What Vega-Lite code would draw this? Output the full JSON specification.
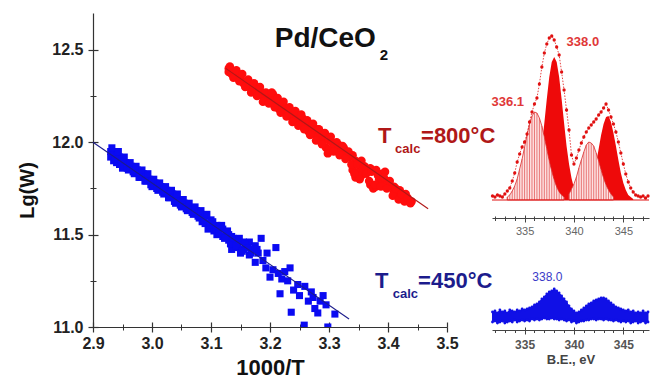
{
  "$schema": "https://vega.github.io/schema/vega-lite/v6.json",
  "background": "white",
  "padding": {"left": 17, "top": 13, "right": 0, "bottom": 0},
  "config": {"view": {"stroke": null}, "axis": {"grid": false}},
  "datasets": {
    "blue": [
      {"x":2.930,"y":11.95},{"x":2.930,"y":11.92},{"x":2.935,"y":11.94},{"x":2.935,"y":11.90},{"x":2.940,"y":11.93},{"x":2.940,"y":11.89},{"x":2.945,"y":11.88},{"x":2.945,"y":11.92},{"x":2.950,"y":11.91},{"x":2.950,"y":11.86},
      {"x":2.955,"y":11.89},{"x":2.960,"y":11.88},{"x":2.960,"y":11.85},{"x":2.965,"y":11.87},{"x":2.970,"y":11.83},{"x":2.970,"y":11.86},{"x":2.975,"y":11.85},{"x":2.980,"y":11.84},{"x":2.980,"y":11.81},{"x":2.985,"y":11.83},
      {"x":2.990,"y":11.79},{"x":2.990,"y":11.82},{"x":2.995,"y":11.80},{"x":3.000,"y":11.79},{"x":3.000,"y":11.76},{"x":3.005,"y":11.78},{"x":3.010,"y":11.74},{"x":3.010,"y":11.77},{"x":3.015,"y":11.76},{"x":3.020,"y":11.72},
      {"x":3.020,"y":11.75},{"x":3.025,"y":11.74},{"x":3.030,"y":11.70},{"x":3.030,"y":11.73},{"x":3.035,"y":11.72},{"x":3.040,"y":11.67},{"x":3.040,"y":11.70},{"x":3.045,"y":11.69},{"x":3.050,"y":11.65},{"x":3.050,"y":11.68},
      {"x":3.055,"y":11.67},{"x":3.060,"y":11.63},{"x":3.060,"y":11.66},{"x":3.065,"y":11.64},{"x":3.070,"y":11.61},{"x":3.070,"y":11.64},{"x":3.075,"y":11.63},{"x":3.080,"y":11.59},{"x":3.080,"y":11.62},{"x":3.085,"y":11.57},
      {"x":3.090,"y":11.60},{"x":3.090,"y":11.56},{"x":3.095,"y":11.53},{"x":3.100,"y":11.58},{"x":3.100,"y":11.54},{"x":3.105,"y":11.52},{"x":3.110,"y":11.55},{"x":3.110,"y":11.50},{"x":3.115,"y":11.54},{"x":3.120,"y":11.49},
      {"x":3.120,"y":11.53},{"x":3.125,"y":11.51},{"x":3.130,"y":11.47},{"x":3.130,"y":11.50},{"x":3.135,"y":11.42},{"x":3.135,"y":11.49},{"x":3.140,"y":11.45},{"x":3.145,"y":11.47},{"x":3.145,"y":11.43},{"x":3.150,"y":11.40},
      {"x":3.155,"y":11.46},{"x":3.155,"y":11.42},{"x":3.160,"y":11.44},{"x":3.165,"y":11.39},{"x":3.165,"y":11.46},{"x":3.170,"y":11.42},{"x":3.175,"y":11.35},{"x":3.175,"y":11.44},{"x":3.180,"y":11.40},{"x":3.185,"y":11.48},
      {"x":3.193,"y":11.32},{"x":3.195,"y":11.40},{"x":3.200,"y":11.27},{"x":3.205,"y":11.31},{"x":3.210,"y":11.43},{"x":3.214,"y":11.29},{"x":3.217,"y":11.18},{"x":3.220,"y":11.26},{"x":3.225,"y":11.30},{"x":3.230,"y":11.25},
      {"x":3.234,"y":11.32},{"x":3.236,"y":11.08},{"x":3.240,"y":11.20},{"x":3.247,"y":11.23},{"x":3.250,"y":11.17},{"x":3.258,"y":11.01},{"x":3.259,"y":11.22},{"x":3.265,"y":11.14},{"x":3.270,"y":11.19},{"x":3.273,"y":11.16},
      {"x":3.276,"y":11.10},{"x":3.281,"y":11.076},{"x":3.285,"y":11.14},{"x":3.290,"y":11.17},{"x":3.295,"y":11.12},{"x":3.298,"y":11.0},{"x":3.310,"y":11.07},
      {"x":2.932,"y":11.97},{"x":2.938,"y":11.91},{"x":2.943,"y":11.95},{"x":2.948,"y":11.88},{"x":2.953,"y":11.92},{"x":2.958,"y":11.86},{"x":2.963,"y":11.89},{"x":2.968,"y":11.84},{"x":2.973,"y":11.87},{"x":2.978,"y":11.81},
      {"x":2.983,"y":11.85},{"x":2.988,"y":11.79},{"x":2.993,"y":11.83},{"x":2.998,"y":11.77},{"x":3.003,"y":11.80},{"x":3.008,"y":11.75},{"x":3.013,"y":11.78},{"x":3.018,"y":11.73},{"x":3.023,"y":11.76},{"x":3.028,"y":11.70},
      {"x":3.033,"y":11.74},{"x":3.038,"y":11.68},{"x":3.043,"y":11.72},{"x":3.048,"y":11.66},{"x":3.053,"y":11.69},{"x":3.058,"y":11.64},{"x":3.063,"y":11.67},{"x":3.068,"y":11.62},{"x":3.073,"y":11.65},{"x":3.078,"y":11.60},
      {"x":3.083,"y":11.63},{"x":3.088,"y":11.58},{"x":3.093,"y":11.61},{"x":3.098,"y":11.55},{"x":3.103,"y":11.57},{"x":3.108,"y":11.53},{"x":3.113,"y":11.51},{"x":3.118,"y":11.55},{"x":3.123,"y":11.48},{"x":3.128,"y":11.52},
      {"x":3.133,"y":11.45},{"x":3.138,"y":11.48},{"x":3.143,"y":11.44},{"x":3.148,"y":11.48},{"x":3.153,"y":11.41},{"x":3.158,"y":11.45},{"x":3.163,"y":11.43},{"x":3.168,"y":11.40},{"x":3.178,"y":11.42},{"x":3.188,"y":11.36}
    ],
    "red": [
      {"x":3.130,"y":12.38},{"x":3.130,"y":12.40},{"x":3.135,"y":12.37},{"x":3.140,"y":12.36},{"x":3.140,"y":12.38},{"x":3.145,"y":12.35},{"x":3.150,"y":12.34},{"x":3.150,"y":12.36},{"x":3.155,"y":12.32},{"x":3.160,"y":12.33},
      {"x":3.160,"y":12.31},{"x":3.165,"y":12.30},{"x":3.170,"y":12.31},{"x":3.170,"y":12.28},{"x":3.175,"y":12.29},{"x":3.180,"y":12.26},{"x":3.180,"y":12.28},{"x":3.185,"y":12.27},{"x":3.190,"y":12.24},{"x":3.195,"y":12.26},
      {"x":3.195,"y":12.24},{"x":3.200,"y":12.25},{"x":3.205,"y":12.22},{"x":3.205,"y":12.26},{"x":3.210,"y":12.24},{"x":3.215,"y":12.21},{"x":3.215,"y":12.18},{"x":3.220,"y":12.20},{"x":3.225,"y":12.16},{"x":3.225,"y":12.19},
      {"x":3.230,"y":12.17},{"x":3.235,"y":12.14},{"x":3.235,"y":12.17},{"x":3.240,"y":12.15},{"x":3.245,"y":12.12},{"x":3.245,"y":12.14},{"x":3.250,"y":12.11},{"x":3.255,"y":12.13},{"x":3.255,"y":12.10},{"x":3.260,"y":12.09},
      {"x":3.265,"y":12.06},{"x":3.265,"y":12.10},{"x":3.270,"y":12.08},{"x":3.275,"y":12.05},{"x":3.280,"y":12.07},{"x":3.280,"y":12.03},{"x":3.285,"y":12.05},{"x":3.290,"y":12.01},{"x":3.290,"y":12.04},{"x":3.295,"y":11.97},
      {"x":3.300,"y":12.01},{"x":3.300,"y":11.96},{"x":3.305,"y":12.00},{"x":3.310,"y":11.98},{"x":3.315,"y":11.96},{"x":3.315,"y":11.99},{"x":3.320,"y":11.95},{"x":3.325,"y":11.97},{"x":3.325,"y":11.94},{"x":3.330,"y":11.94},
      {"x":3.335,"y":11.92},{"x":3.340,"y":11.93},{"x":3.340,"y":11.85},{"x":3.345,"y":11.81},{"x":3.345,"y":11.90},{"x":3.350,"y":11.84},{"x":3.355,"y":11.90},{"x":3.355,"y":11.82},{"x":3.360,"y":11.87},{"x":3.365,"y":11.85},
      {"x":3.370,"y":11.86},{"x":3.370,"y":11.77},{"x":3.375,"y":11.75},{"x":3.380,"y":11.76},{"x":3.380,"y":11.85},{"x":3.385,"y":11.80},{"x":3.390,"y":11.83},{"x":3.390,"y":11.79},{"x":3.395,"y":11.84},{"x":3.400,"y":11.78},
      {"x":3.405,"y":11.76},{"x":3.410,"y":11.73},{"x":3.410,"y":11.76},{"x":3.415,"y":11.72},{"x":3.420,"y":11.71},{"x":3.420,"y":11.74},{"x":3.425,"y":11.70},{"x":3.430,"y":11.70},{"x":3.430,"y":11.72},{"x":3.435,"y":11.68},{"x":3.440,"y":11.68},
      {"x":3.132,"y":12.41},{"x":3.138,"y":12.35},{"x":3.143,"y":12.39},{"x":3.148,"y":12.33},{"x":3.153,"y":12.37},{"x":3.158,"y":12.30},{"x":3.163,"y":12.34},{"x":3.168,"y":12.27},{"x":3.173,"y":12.32},{"x":3.178,"y":12.25},
      {"x":3.183,"y":12.30},{"x":3.188,"y":12.22},{"x":3.193,"y":12.27},{"x":3.198,"y":12.21},{"x":3.203,"y":12.27},{"x":3.208,"y":12.19},{"x":3.213,"y":12.24},{"x":3.218,"y":12.16},{"x":3.223,"y":12.22},{"x":3.228,"y":12.14},
      {"x":3.233,"y":12.19},{"x":3.238,"y":12.11},{"x":3.243,"y":12.17},{"x":3.248,"y":12.09},{"x":3.253,"y":12.15},{"x":3.258,"y":12.07},{"x":3.263,"y":12.12},{"x":3.268,"y":12.04},{"x":3.273,"y":12.10},{"x":3.278,"y":12.01},
      {"x":3.283,"y":12.07},{"x":3.288,"y":11.99},{"x":3.293,"y":12.05},{"x":3.298,"y":11.94},{"x":3.303,"y":12.03},{"x":3.308,"y":11.95},{"x":3.313,"y":12.00},{"x":3.318,"y":11.93},{"x":3.323,"y":11.98},{"x":3.328,"y":11.91},
      {"x":3.333,"y":11.95},{"x":3.338,"y":11.88},{"x":3.343,"y":11.83},{"x":3.348,"y":11.88},{"x":3.352,"y":11.80},{"x":3.358,"y":11.86},{"x":3.363,"y":11.83},{"x":3.368,"y":11.79},{"x":3.372,"y":11.84},{"x":3.378,"y":11.77},
      {"x":3.383,"y":11.82},{"x":3.388,"y":11.76},{"x":3.393,"y":11.81},{"x":3.398,"y":11.75},{"x":3.403,"y":11.79},{"x":3.408,"y":11.71},{"x":3.413,"y":11.75},{"x":3.418,"y":11.69},{"x":3.423,"y":11.72},{"x":3.428,"y":11.68},{"x":3.433,"y":11.70},{"x":3.438,"y":11.67}
    ],
    "fits": [
      {"s":"450","x":2.9,"y":12.0},{"s":"450","x":3.334,"y":11.043},
      {"s":"800","x":3.125,"y":12.40},{"s":"800","x":3.468,"y":11.64}
    ],
    "bigtext": [
      {"label":"T","x":3.383,"y":11.995,"g":"800"},
      {"label":"=800°C","x":3.456,"y":11.995,"g":"800"},
      {"label":"T","x":3.378,"y":11.211,"g":"450"},
      {"label":"=450°C","x":3.451,"y":11.211,"g":"450"}
    ],
    "subtext": [
      {"label":"calc","x":3.412,"y":11.94,"g":"800"},
      {"label":"calc","x":3.408,"y":11.157,"g":"450"}
    ],
    "solid": [
      {"c":"p2","e":335.5,"h":3},{"c":"p2","e":335.75,"h":6},{"c":"p2","e":336.0,"h":12},{"c":"p2","e":336.25,"h":22},{"c":"p2","e":336.5,"h":36},{"c":"p2","e":336.75,"h":54},{"c":"p2","e":337.0,"h":77},{"c":"p2","e":337.25,"h":101},{"c":"p2","e":337.5,"h":123},{"c":"p2","e":337.75,"h":138},{"c":"p2","e":338.0,"h":143},
      {"c":"p2","e":338.25,"h":138},{"c":"p2","e":338.5,"h":123},{"c":"p2","e":338.75,"h":101},{"c":"p2","e":339.0,"h":77},{"c":"p2","e":339.25,"h":54},{"c":"p2","e":339.5,"h":36},{"c":"p2","e":339.75,"h":22},{"c":"p2","e":340.0,"h":12},{"c":"p2","e":340.25,"h":6},{"c":"p2","e":340.5,"h":3},
      {"c":"p4","e":341.25,"h":5},{"c":"p4","e":341.5,"h":9},{"c":"p4","e":341.75,"h":16},{"c":"p4","e":342.0,"h":25},{"c":"p4","e":342.25,"h":37},{"c":"p4","e":342.5,"h":51},{"c":"p4","e":342.75,"h":65},{"c":"p4","e":343.0,"h":76},{"c":"p4","e":343.25,"h":83},{"c":"p4","e":343.5,"h":84},
      {"c":"p4","e":343.75,"h":78},{"c":"p4","e":344.0,"h":67},{"c":"p4","e":344.25,"h":54},{"c":"p4","e":344.5,"h":40},{"c":"p4","e":344.75,"h":27},{"c":"p4","e":345.0,"h":17},{"c":"p4","e":345.25,"h":10},{"c":"p4","e":345.5,"h":5},{"c":"p4","e":345.75,"h":3},{"c":"p4","e":346.0,"h":1}
    ],
    "hatched": [
      {"c":"p1","e":333.25,"h":3},{"c":"p1","e":333.5,"h":5},{"c":"p1","e":333.75,"h":9},{"c":"p1","e":334.0,"h":14},{"c":"p1","e":334.25,"h":21},{"c":"p1","e":334.5,"h":31},{"c":"p1","e":334.75,"h":41},{"c":"p1","e":335.0,"h":53},{"c":"p1","e":335.25,"h":65},{"c":"p1","e":335.5,"h":76},{"c":"p1","e":335.75,"h":84},{"c":"p1","e":336.0,"h":88},{"c":"p1","e":336.25,"h":87},{"c":"p1","e":336.5,"h":82},{"c":"p1","e":336.75,"h":74},{"c":"p1","e":337.0,"h":63},{"c":"p1","e":337.25,"h":51},{"c":"p1","e":337.5,"h":39},{"c":"p1","e":337.75,"h":29},{"c":"p1","e":338.0,"h":20},{"c":"p1","e":338.25,"h":13},{"c":"p1","e":338.5,"h":8},{"c":"p1","e":338.75,"h":5},{"c":"p1","e":339.0,"h":3},
      {"c":"p3","e":339.5,"h":6},{"c":"p3","e":339.75,"h":11},{"c":"p3","e":340.0,"h":16},{"c":"p3","e":340.25,"h":23},{"c":"p3","e":340.5,"h":32},{"c":"p3","e":340.75,"h":40},{"c":"p3","e":341.0,"h":48},{"c":"p3","e":341.25,"h":55},{"c":"p3","e":341.5,"h":58},{"c":"p3","e":341.75,"h":57},{"c":"p3","e":342.0,"h":54},{"c":"p3","e":342.25,"h":47},{"c":"p3","e":342.5,"h":39},{"c":"p3","e":342.75,"h":30},{"c":"p3","e":343.0,"h":22},{"c":"p3","e":343.25,"h":15},{"c":"p3","e":343.5,"h":10},{"c":"p3","e":343.75,"h":6},{"c":"p3","e":344.0,"h":3}
    ],
    "env": [
      {"e":331.75,"h":4},{"e":332.0,"h":3},{"e":332.25,"h":5},{"e":332.5,"h":4},{"e":332.75,"h":3},{"e":333.0,"h":6},{"e":333.25,"h":9},{"e":333.5,"h":12},{"e":333.75,"h":19},{"e":334.0,"h":27},
      {"e":334.25,"h":38},{"e":334.5,"h":46},{"e":334.75,"h":53},{"e":335.0,"h":58},{"e":335.25,"h":66},{"e":335.5,"h":78},{"e":335.75,"h":88},{"e":336.0,"h":96},{"e":336.25,"h":102},{"e":336.5,"h":116},
      {"e":336.75,"h":133},{"e":337.0,"h":147},{"e":337.25,"h":156},{"e":337.5,"h":162},{"e":337.75,"h":164},{"e":338.0,"h":160},{"e":338.25,"h":153},{"e":338.5,"h":145},{"e":338.75,"h":128},{"e":339.0,"h":110},
      {"e":339.25,"h":90},{"e":339.5,"h":70},{"e":339.75,"h":45},{"e":340.0,"h":36},{"e":340.25,"h":42},{"e":340.5,"h":50},{"e":340.75,"h":57},{"e":341.0,"h":63},{"e":341.25,"h":68},{"e":341.5,"h":72},
      {"e":341.75,"h":75},{"e":342.0,"h":78},{"e":342.25,"h":81},{"e":342.5,"h":85},{"e":342.75,"h":88},{"e":343.0,"h":92},{"e":343.25,"h":96},{"e":343.5,"h":90},{"e":343.75,"h":83},{"e":344.0,"h":76},
      {"e":344.25,"h":68},{"e":344.5,"h":58},{"e":344.75,"h":47},{"e":345.0,"h":36},{"e":345.25,"h":26},{"e":345.5,"h":18},{"e":345.75,"h":12},{"e":346.0,"h":8},{"e":346.25,"h":5},{"e":346.5,"h":4},
      {"e":346.75,"h":3},{"e":347.0,"h":4},{"e":347.25,"h":2},{"e":347.5,"h":4}
    ],
    "bluexps": [
      {"e":331.75,"hi":5,"lo":-5},{"e":332.0,"hi":6,"lo":-4},{"e":332.25,"hi":4,"lo":-6},{"e":332.5,"hi":7,"lo":-5},{"e":332.75,"hi":5,"lo":-4},{"e":333.0,"hi":6,"lo":-6},{"e":333.25,"hi":4,"lo":-5},{"e":333.5,"hi":7,"lo":-4},{"e":333.75,"hi":6,"lo":-5},{"e":334.0,"hi":5,"lo":-3},
      {"e":334.25,"hi":7,"lo":-5},{"e":334.5,"hi":6,"lo":-4},{"e":334.75,"hi":8,"lo":-3},{"e":335.0,"hi":7,"lo":-4},{"e":335.25,"hi":8,"lo":-3},{"e":335.5,"hi":9,"lo":-4},{"e":335.75,"hi":10,"lo":-2},{"e":336.0,"hi":12,"lo":-3},{"e":336.25,"hi":13,"lo":-2},{"e":336.5,"hi":15,"lo":-3},
      {"e":336.75,"hi":18,"lo":-2},{"e":337.0,"hi":20,"lo":-1},{"e":337.25,"hi":23,"lo":-2},{"e":337.5,"hi":25,"lo":-2},{"e":337.75,"hi":26,"lo":-1},{"e":338.0,"hi":28,"lo":-2},{"e":338.25,"hi":26,"lo":-2},{"e":338.5,"hi":24,"lo":-3},{"e":338.75,"hi":21,"lo":-2},{"e":339.0,"hi":18,"lo":-3},
      {"e":339.25,"hi":15,"lo":-4},{"e":339.5,"hi":11,"lo":-3},{"e":339.75,"hi":8,"lo":-5},{"e":340.0,"hi":6,"lo":-4},{"e":340.25,"hi":4,"lo":-6},{"e":340.5,"hi":5,"lo":-5},{"e":340.75,"hi":7,"lo":-4},{"e":341.0,"hi":9,"lo":-4},{"e":341.25,"hi":11,"lo":-3},{"e":341.5,"hi":13,"lo":-3},
      {"e":341.75,"hi":14,"lo":-2},{"e":342.0,"hi":16,"lo":-2},{"e":342.25,"hi":17,"lo":-3},{"e":342.5,"hi":18,"lo":-2},{"e":342.75,"hi":19,"lo":-2},{"e":343.0,"hi":19,"lo":-3},{"e":343.25,"hi":18,"lo":-2},{"e":343.5,"hi":16,"lo":-3},{"e":343.75,"hi":14,"lo":-3},{"e":344.0,"hi":12,"lo":-4},
      {"e":344.25,"hi":10,"lo":-3},{"e":344.5,"hi":9,"lo":-4},{"e":344.75,"hi":8,"lo":-5},{"e":345.0,"hi":7,"lo":-4},{"e":345.25,"hi":6,"lo":-5},{"e":345.5,"hi":7,"lo":-4},{"e":345.75,"hi":5,"lo":-6},{"e":346.0,"hi":6,"lo":-5},{"e":346.25,"hi":4,"lo":-4},{"e":346.5,"hi":5,"lo":-6},
      {"e":346.75,"hi":4,"lo":-5},{"e":347.0,"hi":6,"lo":-4},{"e":347.25,"hi":4,"lo":-6},{"e":347.5,"hi":5,"lo":-5}
    ]
  },
  "spacing": 45,
  "bounds": "flush",
  "hconcat": [
    {
      "width": 354,
      "height": 314,
      "resolve": {"axis": {"x": "independent", "y": "independent"}},
      "layer": [
        {
          "data": {"name": "blue"},
          "mark": {"type": "square", "size": 50, "color": "#0a0af2", "opacity": 1, "clip": true},
          "encoding": {
            "x": {"field": "x", "type": "quantitative", "scale": {"domain": [2.9, 3.5], "nice": false, "zero": false},
              "axis": {"orient": "bottom", "values": [2.9, 3.0, 3.1, 3.2, 3.3, 3.4, 3.5], "format": ".1f", "title": "1000/T", "labelFont": "Liberation Sans", "labelFontSize": 16, "labelFontWeight": "bold", "labelColor": "#222", "labelPadding": 3, "labelFlush": false, "labelOverlap": false, "tickSize": 5, "tickColor": "#333", "tickWidth": 1.2, "domainColor": "#333", "domainWidth": 1.2, "titleFont": "Liberation Sans", "titleFontSize": 22, "titleFontWeight": "bold", "titleColor": "#111", "titlePadding": 6, "grid": false}},
            "y": {"field": "y", "type": "quantitative", "scale": {"domain": [11, 12.7], "nice": false, "zero": false},
              "axis": {"orient": "left", "values": [11, 11.5, 12, 12.5], "format": ".1f", "title": "Lg(W)", "labelFont": "Liberation Sans", "labelFontSize": 16, "labelFontWeight": "bold", "labelColor": "#222", "labelPadding": 5, "labelFlush": false, "labelOverlap": false, "tickSize": 5, "tickColor": "#333", "tickWidth": 1.2, "domainColor": "#333", "domainWidth": 1.2, "titleFont": "Liberation Sans", "titleFontSize": 20, "titleFontWeight": "bold", "titleColor": "#111", "titlePadding": 14, "titleY": 177, "grid": false}}
          }
        },
        {
          "data": {"name": "red"},
          "mark": {"type": "circle", "size": 72, "color": "#ff0d0d", "opacity": 1},
          "encoding": {
            "x": {"field": "x", "type": "quantitative", "scale": {"domain": [2.9, 3.5], "nice": false, "zero": false},
              "axis": {"orient": "bottom", "values": [2.9, 3.0, 3.1, 3.2, 3.3, 3.4, 3.5], "labels": false, "domain": false, "tickSize": -5, "tickColor": "#333", "tickWidth": 1.2, "title": null, "grid": false}},
            "y": {"field": "y", "type": "quantitative", "scale": {"domain": [11, 12.7], "nice": false, "zero": false},
              "axis": {"orient": "left", "values": [11, 11.5, 12, 12.5], "labels": false, "domain": false, "tickSize": -5, "tickColor": "#333", "tickWidth": 1.2, "title": null, "grid": false}}
          }
        },
        {
          "data": {"name": "fits"},
          "mark": {"type": "line", "strokeWidth": 1.1},
          "encoding": {
            "x": {"field": "x", "type": "quantitative", "scale": {"domain": [2.9, 3.5], "nice": false, "zero": false},
              "axis": {"orient": "bottom", "values": [2.95, 3.05, 3.15, 3.25, 3.35, 3.45], "labels": false, "domain": false, "tickSize": 3, "tickColor": "#333", "title": null, "grid": false}},
            "y": {"field": "y", "type": "quantitative", "scale": {"domain": [11, 12.7], "nice": false, "zero": false},
              "axis": {"orient": "left", "values": [11.25, 11.75, 12.25], "labels": false, "domain": false, "tickSize": 3, "tickColor": "#333", "title": null, "grid": false}},
            "color": {"field": "s", "type": "nominal", "scale": {"domain": ["450", "800"], "range": ["#1c1c8c", "#b01818"]}, "legend": null},
            "detail": {"field": "s"}
          }
        },
        {
          "data": {"values": [{"label": "Pd/CeO", "x": 3.208, "y": 12.514}]},
          "mark": {"type": "text", "align": "left", "baseline": "alphabetic", "font": "Liberation Sans", "fontSize": 28, "fontWeight": "bold", "color": "#111"},
          "encoding": {
            "x": {"field": "x", "type": "quantitative", "scale": {"domain": [2.9, 3.5], "nice": false, "zero": false},
              "axis": {"orient": "bottom", "values": [2.95, 3.05, 3.15, 3.25, 3.35, 3.45], "labels": false, "domain": false, "tickSize": -3, "tickColor": "#333", "title": null, "grid": false}},
            "y": {"field": "y", "type": "quantitative", "scale": {"domain": [11, 12.7], "nice": false, "zero": false},
              "axis": {"orient": "left", "values": [11.25, 11.75, 12.25], "labels": false, "domain": false, "tickSize": -3, "tickColor": "#333", "title": null, "grid": false}},
            "text": {"field": "label"}
          }
        },
        {
          "data": {"values": [{"label": "2", "x": 3.386, "y": 12.443}]},
          "mark": {"type": "text", "align": "left", "baseline": "alphabetic", "font": "Liberation Sans", "fontSize": 15, "fontWeight": "bold", "color": "#111"},
          "encoding": {
            "x": {"field": "x", "type": "quantitative", "scale": {"domain": [2.9, 3.5], "nice": false, "zero": false}, "axis": null},
            "y": {"field": "y", "type": "quantitative", "scale": {"domain": [11, 12.7], "nice": false, "zero": false}, "axis": null},
            "text": {"field": "label"}
          }
        },
        {
          "data": {"name": "bigtext"},
          "mark": {"type": "text", "align": "left", "baseline": "alphabetic", "font": "Liberation Sans", "fontSize": 22, "fontWeight": "bold"},
          "encoding": {
            "x": {"field": "x", "type": "quantitative", "scale": {"domain": [2.9, 3.5], "nice": false, "zero": false}, "axis": null},
            "y": {"field": "y", "type": "quantitative", "scale": {"domain": [11, 12.7], "nice": false, "zero": false}, "axis": null},
            "color": {"field": "g", "type": "nominal", "scale": {"domain": ["450", "800"], "range": ["#1414c8", "#e0141e"]}, "legend": null},
            "text": {"field": "label"}
          }
        },
        {
          "data": {"name": "subtext"},
          "mark": {"type": "text", "align": "left", "baseline": "alphabetic", "font": "Liberation Sans", "fontSize": 13, "fontWeight": "bold"},
          "encoding": {
            "x": {"field": "x", "type": "quantitative", "scale": {"domain": [2.9, 3.5], "nice": false, "zero": false}, "axis": null},
            "y": {"field": "y", "type": "quantitative", "scale": {"domain": [11, 12.7], "nice": false, "zero": false}, "axis": null},
            "color": {"field": "g", "type": "nominal", "scale": {"domain": ["450", "800"], "range": ["#1414c8", "#e0141e"]}, "legend": null},
            "text": {"field": "label"}
          }
        }
      ]
    },
    {
      "spacing": 62,
      "bounds": "flush",
      "vconcat": [
        {
          "width": 157,
          "height": 205,
          "resolve": {"axis": {"x": "independent"}},
          "layer": [
            {
              "data": {"name": "solid"},
              "mark": {"type": "area", "color": "#ee0a0a", "opacity": 1},
              "encoding": {
                "x": {"field": "e", "type": "quantitative", "scale": {"domain": [331.7, 347.6], "nice": false, "zero": false},
                  "axis": {"orient": "bottom", "values": [335, 340, 345], "title": null, "labelFont": "Liberation Sans", "labelFontSize": 11, "labelColor": "#666", "labelPadding": 3, "labelFlush": false, "tickSize": 4, "tickColor": "#444", "domainColor": "#444", "grid": false}},
                "y": {"field": "h", "type": "quantitative", "scale": {"domain": [-18, 187], "nice": false, "zero": false}, "axis": null},
                "y2": {"datum": 0},
                "detail": {"field": "c"}
              }
            },
            {
              "data": {"name": "hatched"},
              "mark": {"type": "area", "fill": "#fde2e2", "fillOpacity": 1, "stroke": "#d82828", "strokeWidth": 0.8},
              "encoding": {
                "x": {"field": "e", "type": "quantitative", "scale": {"domain": [331.7, 347.6], "nice": false, "zero": false},
                  "axis": {"orient": "bottom", "values": [332, 333, 334, 336, 337, 338, 339, 341, 342, 343, 344, 346, 347], "labels": false, "domain": false, "title": null, "tickSize": 2.5, "tickColor": "#444", "grid": false}},
                "y": {"field": "h", "type": "quantitative", "scale": {"domain": [-18, 187], "nice": false, "zero": false}, "axis": null},
                "y2": {"datum": 0},
                "detail": {"field": "c"}
              }
            },
            {
              "data": {"name": "hatched"},
              "mark": {"type": "rule", "color": "#e04848", "strokeWidth": 0.7},
              "encoding": {
                "x": {"field": "e", "type": "quantitative", "scale": {"domain": [331.7, 347.6], "nice": false, "zero": false},
                  "axis": {"orient": "bottom", "values": [335, 340, 345], "labels": false, "domain": false, "title": null, "tickSize": -3, "tickColor": "#444", "grid": false}},
                "y": {"field": "h", "type": "quantitative", "scale": {"domain": [-18, 187], "nice": false, "zero": false}, "axis": null},
                "y2": {"datum": 0}
              }
            },
            {
              "data": {"values": [{}]},
              "mark": {"type": "rule", "color": "#e01010", "strokeWidth": 1},
              "encoding": {
                "y": {"datum": 0, "type": "quantitative", "scale": {"domain": [-18, 187], "nice": false, "zero": false}, "axis": null}
              }
            },
            {
              "data": {"name": "env"},
              "mark": {"type": "line", "color": "#e01010", "strokeWidth": 0.8, "strokeDash": [1.5, 1.5]},
              "encoding": {
                "x": {"field": "e", "type": "quantitative", "scale": {"domain": [331.7, 347.6], "nice": false, "zero": false},
                  "axis": {"orient": "bottom", "values": [332, 333, 334, 336, 337, 338, 339, 341, 342, 343, 344, 346, 347], "labels": false, "domain": false, "title": null, "tickSize": -2, "tickColor": "#444", "grid": false}},
                "y": {"field": "h", "type": "quantitative", "scale": {"domain": [-18, 187], "nice": false, "zero": false}, "axis": null}
              }
            },
            {
              "data": {"name": "env"},
              "mark": {"type": "circle", "size": 11, "color": "#e01010", "opacity": 1},
              "encoding": {
                "x": {"field": "e", "type": "quantitative", "scale": {"domain": [331.7, 347.6], "nice": false, "zero": false}, "axis": null},
                "y": {"field": "h", "type": "quantitative", "scale": {"domain": [-18, 187], "nice": false, "zero": false}, "axis": null}
              }
            },
            {
              "data": {"values": [{"label": "338.0", "e": 340.9, "h": 158}, {"label": "336.1", "e": 333.3, "h": 98}]},
              "mark": {"type": "text", "align": "center", "baseline": "middle", "font": "Liberation Sans", "fontSize": 13, "fontWeight": "bold", "color": "#e03838"},
              "encoding": {
                "x": {"field": "e", "type": "quantitative", "scale": {"domain": [331.7, 347.6], "nice": false, "zero": false}, "axis": null},
                "y": {"field": "h", "type": "quantitative", "scale": {"domain": [-18, 187], "nice": false, "zero": false}, "axis": null},
                "text": {"field": "label"}
              }
            }
          ]
        },
        {
          "width": 157,
          "height": 50,
          "resolve": {"axis": {"x": "independent"}},
          "layer": [
            {
              "data": {"name": "bluexps"},
              "mark": {"type": "area", "fill": "#1010e6", "stroke": "#1010e6", "strokeWidth": 1, "opacity": 1},
              "encoding": {
                "x": {"field": "e", "type": "quantitative", "scale": {"domain": [331.7, 347.6], "nice": false, "zero": false},
                  "axis": {"orient": "bottom", "values": [335, 340, 345], "title": "B.E., eV", "labelFont": "Liberation Sans", "labelFontSize": 12, "labelFontWeight": "bold", "labelColor": "#555", "labelPadding": 5, "labelFlush": false, "tickSize": 4, "tickColor": "#444", "domainColor": "#444", "titleFont": "Liberation Sans", "titleFontSize": 13, "titleFontWeight": "bold", "titleColor": "#444", "titlePadding": 3, "grid": false}},
                "y": {"field": "hi", "type": "quantitative", "scale": {"domain": [-13, 37], "nice": false, "zero": false}, "axis": null},
                "y2": {"field": "lo"}
              }
            },
            {
              "data": {"name": "bluexps"},
              "mark": {"type": "circle", "size": 8, "color": "#1010e6", "opacity": 1},
              "encoding": {
                "x": {"field": "e", "type": "quantitative", "scale": {"domain": [331.7, 347.6], "nice": false, "zero": false},
                  "axis": {"orient": "bottom", "values": [332, 333, 334, 336, 337, 338, 339, 341, 342, 343, 344, 346, 347], "labels": false, "domain": false, "title": null, "tickSize": 2.5, "tickColor": "#444", "grid": false}},
                "y": {"field": "hi", "type": "quantitative", "scale": {"domain": [-13, 37], "nice": false, "zero": false}, "axis": null}
              }
            },
            {
              "data": {"name": "bluexps"},
              "mark": {"type": "circle", "size": 8, "color": "#1010e6", "opacity": 1},
              "encoding": {
                "x": {"field": "e", "type": "quantitative", "scale": {"domain": [331.7, 347.6], "nice": false, "zero": false},
                  "axis": {"orient": "bottom", "values": [335, 340, 345], "labels": false, "domain": false, "title": null, "tickSize": -3, "tickColor": "#444", "grid": false}},
                "y": {"field": "lo", "type": "quantitative", "scale": {"domain": [-13, 37], "nice": false, "zero": false}, "axis": null}
              }
            },
            {
              "data": {"values": [{"label": "338.0", "e": 337.3, "h": 40}]},
              "mark": {"type": "text", "align": "center", "baseline": "middle", "font": "Liberation Sans", "fontSize": 12, "color": "#3a3ac8"},
              "encoding": {
                "x": {"field": "e", "type": "quantitative", "scale": {"domain": [331.7, 347.6], "nice": false, "zero": false}, "axis": null},
                "y": {"field": "h", "type": "quantitative", "scale": {"domain": [-13, 37], "nice": false, "zero": false}, "axis": null},
                "text": {"field": "label"}
              }
            }
          ]
        }
      ]
    }
  ]
}
